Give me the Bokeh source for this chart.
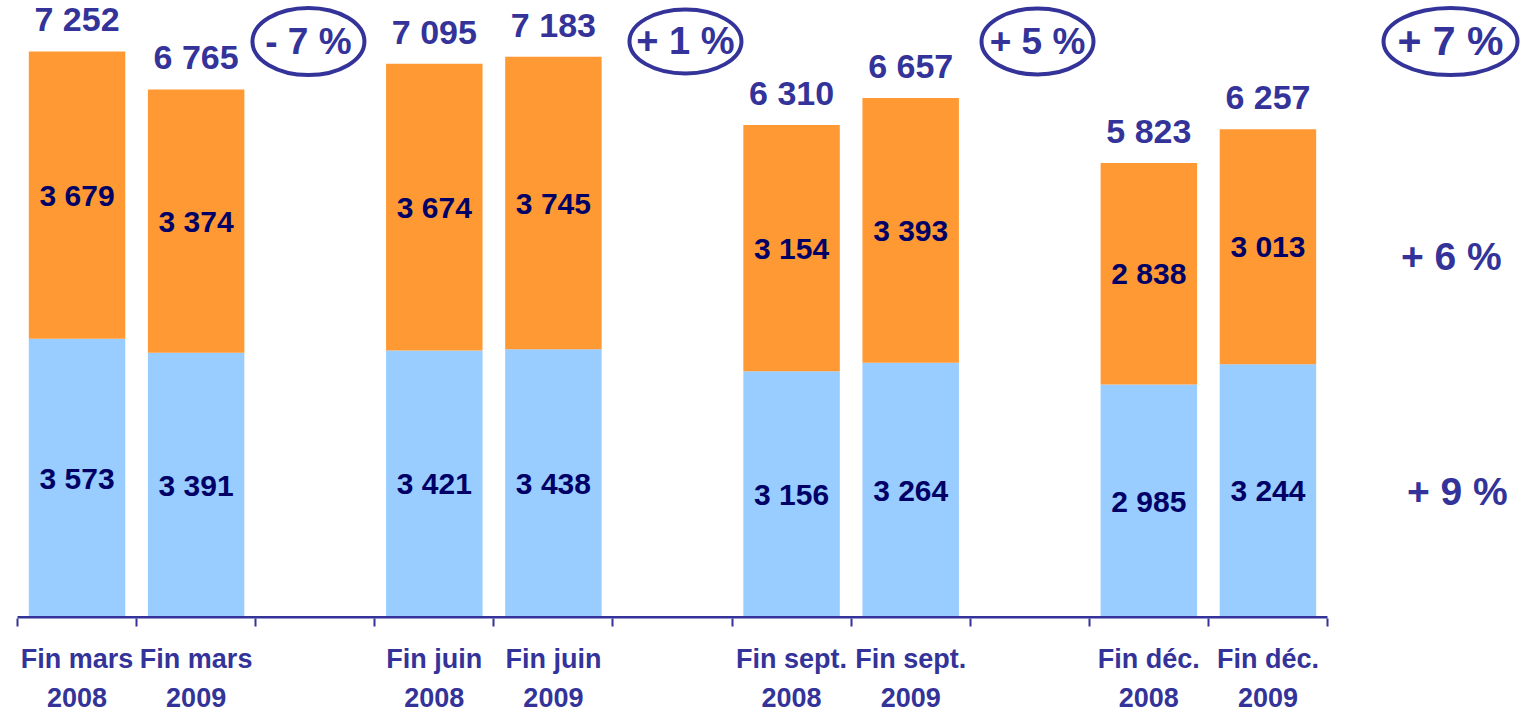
from bokeh.plotting import figure
from bokeh.models import Range1d, FixedTicker, LinearAxis, ColumnDataSource
from bokeh.core.properties import value
from bokeh.embed import file_html
from bokeh.resources import INLINE

# ---- data ----
periods = ["Fin mars", "Fin mars", "Fin juin", "Fin juin",
           "Fin sept.", "Fin sept.", "Fin déc.", "Fin déc."]
years = ["2008", "2009", "2008", "2009", "2008", "2009", "2008", "2009"]
blue_values = [3573, 3391, 3421, 3438, 3156, 3264, 2985, 3244]
orange_values = [3679, 3374, 3674, 3745, 3154, 3393, 2838, 3013]
totals = [7252, 6765, 7095, 7183, 6310, 6657, 5823, 6257]
change_labels = ["- 7 %", "+ 1 %", "+ 5 %", "+ 7 %"]
side_labels = ["+ 6 %", "+ 9 %"]

# ---- layout (positions / sizes / styles) ----
slots = [0, 1, 3, 4, 6, 7, 9, 10]          # category slots used by bars
n_slots = 11
bar_x = [s + 0.5 for s in slots]
bar_w = 0.81
ell_x = [2.443, 5.609, 8.565, 12.033]
ell_y = [7380, 7380, 7380, 7380]
ell_w = [112, 112, 112, 134]
ell_h = [67, 64, 66, 67]
ell_font = ["37px", "38px", "37px", "41px"]
side_x = [12.04, 12.09]
side_y = [4625, 1614]

NAVY = "#333399"
DARK = "#000066"
ORANGE = "#FF9933"
BLUE = "#99CCFF"
FONT = "Liberation Sans"

px_per_slot = 119.09
px_per_unit = 0.07805
x0 = -17 / px_per_slot
x1 = x0 + 1524 / px_per_slot
y0 = -1 / px_per_unit
y1 = y0 + 618 / px_per_unit

p = figure(frame_width=1524, frame_height=618, output_backend="svg", toolbar_location=None,
           x_range=Range1d(x0, x1), y_range=Range1d(y0, y1),
           x_axis_location=None, y_axis_location=None,
           min_border_left=0, min_border_right=0, min_border_top=0,
           min_border_bottom=0)
p.outline_line_color = None
p.grid.visible = False
p.background_fill_color = "white"

src = ColumnDataSource(dict(
    x=bar_x, blue=blue_values, orange=orange_values, total=totals,
    bmid=[b / 2 for b in blue_values],
    omid=[b + o / 2 for b, o in zip(blue_values, orange_values)],
    btxt=[f"{v // 1000} {v % 1000:03d}" for v in blue_values],
    otxt=[f"{v // 1000} {v % 1000:03d}" for v in orange_values],
    ttxt=[f"{v // 1000} {v % 1000:03d}" for v in totals],
))

p.vbar(x="x", top="blue", bottom=0, width=bar_w, color=BLUE, line_color=None, source=src)
p.vbar(x="x", top="total", bottom="blue", width=bar_w, color=ORANGE, line_color=None, source=src)

p.text(x="x", y="bmid", text="btxt", source=src, text_align="center",
       text_baseline="middle", text_font=value(FONT), text_font_style="bold",
       text_font_size="30px", text_color=DARK)
p.text(x="x", y="omid", text="otxt", source=src, text_align="center",
       text_baseline="middle", text_font=value(FONT), text_font_style="bold",
       text_font_size="30px", text_color=DARK)
p.text(x="x", y="total", text="ttxt", source=src, text_align="center",
       text_baseline="middle", y_offset=-32, text_font=value(FONT),
       text_font_style="bold", text_font_size="34px", text_color=NAVY)

# baseline
p.segment(x0=[0], y0=[0], x1=[n_slots], y1=[0], line_color=NAVY, line_width=3)

# change ellipses
esrc = ColumnDataSource(dict(x=ell_x, y=ell_y, w=ell_w, h=ell_h, t=change_labels, fs=ell_font))
p.ellipse(x="x", y="y", width="w", height="h", width_units="screen", height_units="screen",
          fill_color=None, line_color=NAVY, line_width=4, source=esrc)
p.text(x="x", y="y", text="t", source=esrc, text_align="center", text_baseline="middle",
       text_font=value(FONT), text_font_style="bold", text_font_size="fs", text_color=NAVY)

# side labels
ssrc = ColumnDataSource(dict(x=side_x, y=side_y, t=side_labels))
p.text(x="x", y="y", text="t", source=ssrc, text_align="center", text_baseline="middle",
       text_font=value(FONT), text_font_style="bold", text_font_size="39px", text_color=NAVY)

# tick axis (slot boundaries)
ax_ticks = LinearAxis(ticker=FixedTicker(ticks=list(range(n_slots + 1))))
ax_ticks.axis_line_color = None
ax_ticks.major_tick_line_color = NAVY
ax_ticks.major_tick_line_width = 2
ax_ticks.major_tick_in = 0
ax_ticks.major_tick_out = 8
ax_ticks.minor_tick_line_color = None
ax_ticks.major_label_text_font_size = "0px"
ax_ticks.major_label_standoff = 0
p.add_layout(ax_ticks, "below")

# label axis (category names)
overrides = {x: f"{a}\n{b}" for x, a, b in zip(bar_x, periods, years)}
ax_lab = LinearAxis(ticker=FixedTicker(ticks=bar_x), major_label_overrides=overrides)
ax_lab.axis_line_color = None
ax_lab.major_tick_line_color = None
ax_lab.minor_tick_line_color = None
ax_lab.major_tick_in = 0
ax_lab.major_tick_out = 0
ax_lab.major_label_standoff = 17
ax_lab.major_label_text_font = FONT
ax_lab.major_label_text_font_style = "bold"
ax_lab.major_label_text_font_size = "27px"
ax_lab.major_label_text_color = NAVY
ax_lab.major_label_text_line_height = 1.3
p.add_layout(ax_lab, "below")

open("out.html", "w").write(file_html(p, INLINE))
